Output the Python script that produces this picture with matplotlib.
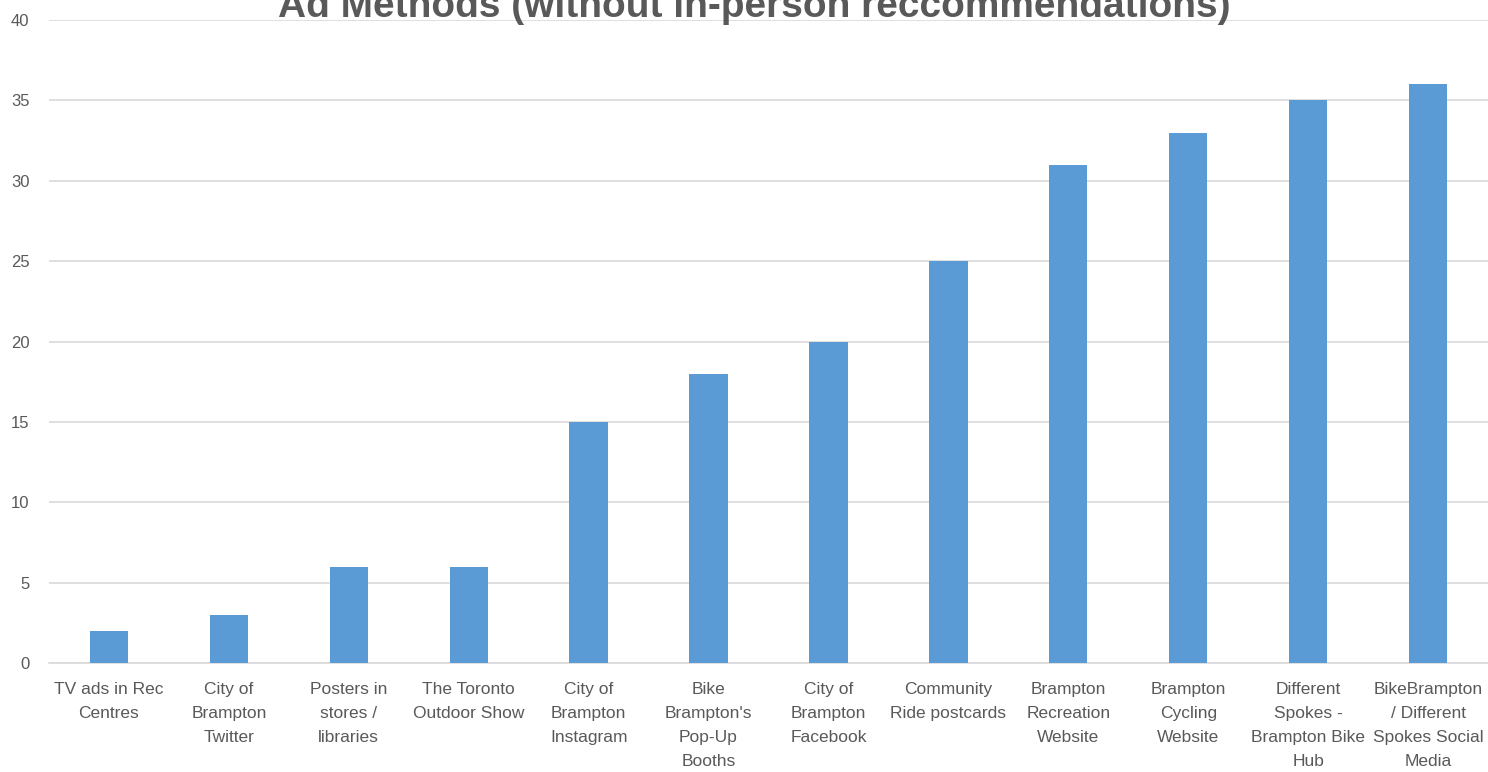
import matplotlib
matplotlib.use("Agg")
import matplotlib.pyplot as plt

categories = [
    "TV ads in Rec\nCentres",
    "City of\nBrampton\nTwitter",
    "Posters in\nstores /\nlibraries",
    "The Toronto\nOutdoor Show",
    "City of\nBrampton\nInstagram",
    "Bike\nBrampton's\nPop-Up\nBooths",
    "City of\nBrampton\nFacebook",
    "Community\nRide postcards",
    "Brampton\nRecreation\nWebsite",
    "Brampton\nCycling\nWebsite",
    "Different\nSpokes -\nBrampton Bike\nHub",
    "BikeBrampton\n/ Different\nSpokes Social\nMedia",
]
counts = [2, 3, 6, 6, 15, 18, 20, 25, 31, 33, 35, 36]

plt.rcParams["font.family"] = ["Liberation Sans", "DejaVu Sans"]
text_col = "#595959"

fig = plt.figure(figsize=(14.88, 7.72), dpi=100)
ax = fig.add_axes([49 / 1488, 1 - 663 / 772, 1 - 49 / 1488, (663 - 20) / 772])

x = range(len(categories))
ax.bar(x, counts, width=0.32, color="#5B9BD5", zorder=3)

ax.set_xlim(-0.5, len(categories) - 0.5)
ax.set_ylim(0, 40)
ax.set_yticks(range(0, 41, 5))
ax.set_xticks(list(x))
ax.set_xticklabels(categories, fontsize=12.5, color=text_col, linespacing=1.75)
ax.tick_params(axis="y", labelsize=12, colors=text_col, length=0, pad=14)
ax.tick_params(axis="x", length=0, pad=14)
ax.yaxis.grid(True, color="#D9D9D9", lw=1.2, zorder=0)
for s in ["top", "right", "left"]:
    ax.spines[s].set_visible(False)
ax.spines["bottom"].set_color("#D9D9D9")
ax.spines["bottom"].set_linewidth(1.2)

# title sits partly above the canvas, as in the source chart
fig.text(0.507, 1 - 17 / 772, "Ad Methods (without in-person reccommendations)",
         ha="center", va="baseline", fontsize=28, fontweight="bold", color=text_col)

fig.savefig("out.png", dpi=100)
